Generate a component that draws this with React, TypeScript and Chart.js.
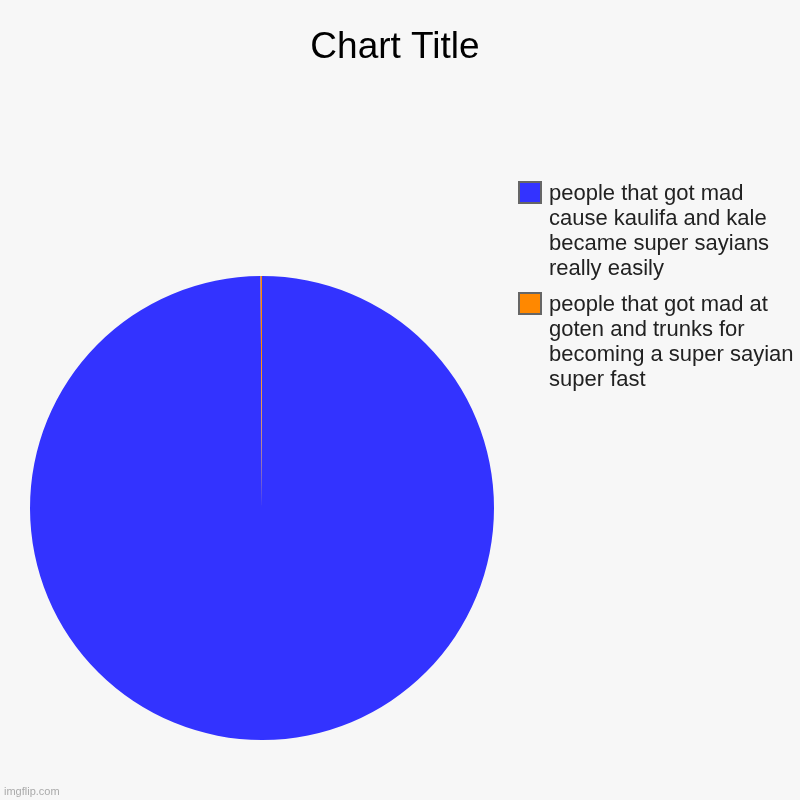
import { useEffect, useRef } from "react";
import { Chart, registerables } from "chart.js";
import type { Plugin } from "chart.js";

Chart.register(...registerables);

const chartTitle = "Chart Title";
const categories: string[][] = [
  ["people that got mad", "cause kaulifa and kale", "became super sayians", "really easily"],
  ["people that got mad at", "goten and trunks for", "becoming a super sayian", "super fast"],
];
const values = [1000, 1];
const colors = ["#3333ff", "#ff8800"];

const FONT = '"Liberation Sans", Arial, Helvetica, sans-serif';

// title, legend, background and watermark drawn like imgflip does it
const decorations: Plugin<"pie"> = {
  id: "decorations",
  beforeDraw(chart) {
    const { ctx, width, height } = chart;
    ctx.save();
    ctx.fillStyle = "#f7f7f7";
    ctx.fillRect(0, 0, width, height);
    ctx.restore();
  },
  afterDraw(chart) {
    const ctx = chart.ctx;
    ctx.save();
    ctx.textBaseline = "alphabetic";

    ctx.fillStyle = "#000";
    ctx.font = `37px ${FONT}`;
    ctx.textAlign = "center";
    ctx.fillText(chartTitle, 395, 58);

    ctx.font = `22px ${FONT}`;
    ctx.textAlign = "left";
    const lineHeight = 25;
    let top = 181;
    const labels = (chart.data.labels || []) as string[][];
    const bg = chart.data.datasets[0].backgroundColor as string[];
    labels.forEach((lines, i) => {
      ctx.fillStyle = bg[i];
      ctx.fillRect(519, top + 1, 22, 21);
      ctx.strokeStyle = "#666";
      ctx.lineWidth = 2;
      ctx.strokeRect(519, top + 1, 22, 21);
      ctx.fillStyle = "#222";
      lines.forEach((line, j) => {
        ctx.fillText(line, 549, top + 19 + j * lineHeight);
      });
      top += lines.length * lineHeight + 11;
    });

    ctx.fillStyle = "#aaa";
    ctx.font = `11px ${FONT}`;
    ctx.fillText("imgflip.com", 4, 795);
    ctx.restore();
  },
};

export default function App() {
  const canvasRef = useRef<HTMLCanvasElement | null>(null);

  useEffect(() => {
    if (!canvasRef.current) return;
    const chart = new Chart(canvasRef.current, {
      type: "pie",
      data: {
        labels: categories,
        datasets: [
          {
            data: values,
            backgroundColor: colors,
            borderWidth: 0,
          },
        ],
      },
      options: {
        responsive: false,
        animation: false,
        devicePixelRatio: 1,
        layout: {
          padding: { left: 30, right: 306, top: 276, bottom: 60 },
        },
        plugins: {
          legend: { display: false },
          title: { display: false },
          tooltip: { enabled: false },
        },
      },
      plugins: [decorations],
    });
    return () => chart.destroy();
  }, []);

  return (
    <div style={{ position: "fixed", left: 0, top: 0, width: 800, height: 800 }}>
      <canvas ref={canvasRef} width={800} height={800} />
    </div>
  );
}
